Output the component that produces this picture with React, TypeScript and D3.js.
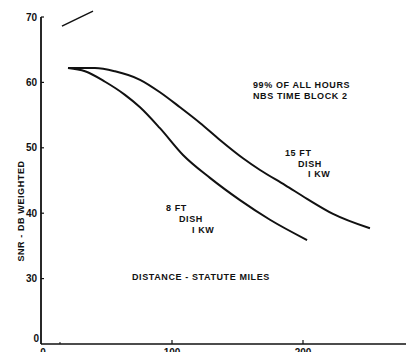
import React from "react";
import * as d3 from "d3";

const W = 408;
const H = 352;

// 15 FT dish, 1 KW  (distance miles, SNR dB)
const dist15 = [20.6, 41.2, 56.5, 75.6, 90.8, 106.1, 121.4, 136.6, 154.2, 167.2, 186.3, 203.1, 222.9, 251.1];
const snr15 = [62.2, 62.2, 61.7, 60.4, 58.5, 56.2, 53.8, 51.2, 48.4, 46.6, 44.3, 42.2, 39.9, 37.7];

// 8 FT dish, 1 KW
const dist8 = [20.6, 33.6, 48.9, 64.1, 75.6, 90.8, 108.4, 129.0, 151.9, 174.8, 203.1];
const snr8 = [62.2, 61.7, 60.1, 58.1, 56.2, 53.0, 48.9, 45.4, 42.0, 39.0, 35.9];

// stray stroke at top
const strokeDist = [16, 28.2, 39.7];
const strokeSnr = [68.6, 69.8, 70.9];

const yTicks = [70, 60, 50, 40, 30];
const yBottomLabel = "0";
const xTicks = [0, 100, 200];
const xMinorTicks = [14.5];

export default function App() {
  const x = d3.scaleLinear().domain([0, 200]).range([41, 303]);
  const y = d3.scaleLinear().domain([20, 70]).range([344, 17]);

  const line = d3
    .line<[number, number]>()
    .x((d) => x(d[0]))
    .y((d) => y(d[1]))
    .curve(d3.curveMonotoneX);

  const pts15 = dist15.map((d, i) => [d, snr15[i]] as [number, number]);
  const pts8 = dist8.map((d, i) => [d, snr8[i]] as [number, number]);
  const ptsS = strokeDist.map((d, i) => [d, strokeSnr[i]] as [number, number]);

  const font = "'Liberation Sans', Arial, sans-serif";
  const txt = { fontFamily: font, fontWeight: 700, fontSize: 9, fill: "#111", letterSpacing: 0.6 } as const;

  return (
    <svg
      width={W}
      height={H}
      style={{ position: "absolute", left: 0, top: 0, background: "#fff" }}
    >
      {/* axes */}
      <line x1={x(0)} x2={x(0)} y1={y(70)} y2={y(20)} stroke="#111" strokeWidth={1.8} />
      <line x1={x(0)} x2={406} y1={y(20)} y2={y(20)} stroke="#111" strokeWidth={1.6} />

      {yTicks.map((t) => (
        <g key={t}>
          <line x1={x(0)} x2={x(0) + 3} y1={y(t)} y2={y(t)} stroke="#111" strokeWidth={1.2} />
          <text x={x(0) - 4} y={y(t)} dy="0.35em" textAnchor="end" style={{ ...txt, fontSize: 10, letterSpacing: 0 }}>
            {t}
          </text>
        </g>
      ))}
      <text x={x(0) - 2} y={y(20) - 2} textAnchor="end" style={{ ...txt, fontSize: 10, letterSpacing: 0 }}>
        {yBottomLabel}
      </text>

      {xTicks.map((t) => (
        <g key={t}>
          {t > 0 && <line x1={x(t)} x2={x(t)} y1={y(20)} y2={y(20) - 4} stroke="#111" strokeWidth={1.2} />}
          <text x={x(t) + (t === 0 ? 2 : 0)} y={y(20) + 12} textAnchor="middle" style={{ ...txt, fontSize: 10, letterSpacing: 0 }}>
            {t}
          </text>
        </g>
      ))}
      {xMinorTicks.map((t) => (
        <line key={t} x1={x(t)} x2={x(t)} y1={y(20)} y2={y(20) - 2} stroke="#111" strokeWidth={1} />
      ))}

      {/* curves */}
      <path d={line(pts15) || ""} fill="none" stroke="#111" strokeWidth={2} />
      <path d={line(pts8) || ""} fill="none" stroke="#111" strokeWidth={2} />
      <path d={d3.line<[number, number]>().x((d) => x(d[0])).y((d) => y(d[1])).curve(d3.curveNatural)(ptsS) || ""} fill="none" stroke="#111" strokeWidth={1.5} />

      {/* annotations */}
      <text x={253} y={88} style={txt}>99% OF ALL HOURS</text>
      <text x={253} y={99} style={txt}>NBS TIME BLOCK 2</text>

      <text x={285} y={156} style={txt}>15 FT</text>
      <text x={298} y={167} style={txt}>DISH</text>
      <text x={308} y={177} style={txt}>I KW</text>

      <text x={166} y={211} style={txt}>8 FT</text>
      <text x={179} y={222} style={txt}>DISH</text>
      <text x={192} y={233} style={txt}>I KW</text>

      <text x={132} y={280} style={txt}>DISTANCE - STATUTE MILES</text>

      <text
        transform={`translate(24,211) rotate(-90)`}
        textAnchor="middle"
        style={txt}
      >
        SNR - DB WEIGHTED
      </text>
    </svg>
  );
}
